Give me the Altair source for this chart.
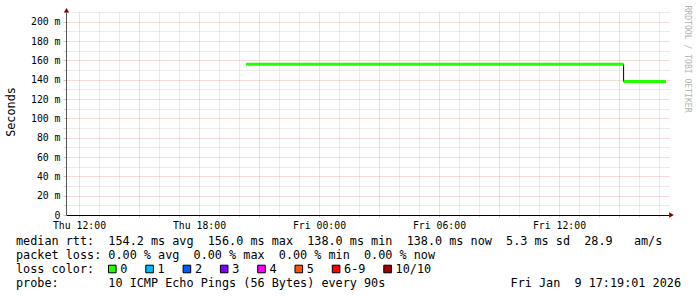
import altair as alt
import pandas as pd

# ---------------- data ----------------
# time in hours since Thu 00:00
seg_start_h = [20.35, 39.23]
seg_end_h = [39.23, 41.35]
seg_median_ms = [156.0, 138.0]
seg_loss = [0, 0]

x_tick_hours = [12, 18, 24, 30, 36]
x_tick_labels = ["Thu 12:00", "Thu 18:00", "Fri 00:00", "Fri 06:00", "Fri 12:00"]
x_grid_hours = list(range(12, 42))
y_grid_values = list(range(0, 211, 10))

loss_labels = ["0", "1", "2", "3", "4", "5", "6-9", "10/10"]
loss_colors = ["#26ff00", "#00b8ff", "#0059ff", "#7e00ff", "#ff00ff", "#ff5500", "#ff0000", "#a10000"]

legend_rows = [
    "median rtt:  154.2 ms avg  156.0 ms max  138.0 ms min  138.0 ms now  5.3 ms sd  28.9   am/s",
    "packet loss: 0.00 % avg  0.00 % max  0.00 % min  0.00 % now",
    "loss color:",
    "probe:       10 ICMP Echo Pings (56 Bytes) every 90s",
]
timestamp = "Fri Jan  9 17:19:01 2026"
y_title = "Seconds"
watermark = "RRDTOOL / TOBI OETIKER"

# ---------------- layout / style ----------------
MONO = "DejaVu Sans Mono"
FS = 11.8
X0, Y0 = 66, 12          # plot origin in the page
W, H = 603, 203
X_DOMAIN = [11.35, 41.5]
Y_DOMAIN = [0, 210]
MINOR = "#d6d6d6"
MAJOR = "#ecb6b6"
ARROW = "#800000"

def nb(s):
    return s.replace(" ", "\u00a0")

xscale = alt.Scale(domain=X_DOMAIN, nice=False, zero=False)
yscale = alt.Scale(domain=Y_DOMAIN, nice=False, zero=True)

x_label_expr = "''"
for h, lab in reversed(list(zip(x_tick_hours, x_tick_labels))):
    x_label_expr = f"datum.value == {h} ? '{lab}' : ({x_label_expr})"

xaxis = alt.Axis(
    orient="bottom", values=x_grid_hours, labelExpr=x_label_expr, title=None,
    grid=True, gridDash=[1, 1], gridWidth=1,
    gridColor={"condition": {"test": "datum.value % 3 === 0", "value": MAJOR}, "value": MINOR},
    tickSize=2, tickColor={"condition": {"test": "datum.value % 3 === 0", "value": MAJOR}, "value": MINOR},
    labelFont=MONO, labelFontSize=9.8, labelColor="#000", labelPadding=3,
    labelAngle=0, labelFlush=False, labelOverlap=False,
    domainColor="#000", domainWidth=1,
)
yaxis = alt.Axis(
    orient="left", values=y_grid_values,
    labelExpr="datum.value % 20 === 0 ? (datum.value === 0 ? '0' : datum.value + ' m') : ''",
    title=None, grid=True, gridDash=[1, 1], gridWidth=1,
    gridColor={"condition": {"test": "datum.value % 20 === 0", "value": MAJOR}, "value": MINOR},
    tickSize=3, tickColor={"condition": {"test": "datum.value % 20 === 0", "value": MAJOR}, "value": MINOR},
    labelFont=MONO, labelFontSize=9.8, labelColor="#000", labelPadding=3,
    labelOverlap=False, labelFlush=False,
    domainColor="#555", domainWidth=1,
)

seg_df = pd.DataFrame({
    "start": seg_start_h, "end": seg_end_h, "median": seg_median_ms,
    "loss": [loss_labels[l] for l in seg_loss],
})
line_df = pd.DataFrame({
    "t": seg_start_h + [seg_end_h[-1]],
    "v": seg_median_ms + [seg_median_ms[-1]],
})

median_line = alt.Chart(line_df).mark_line(
    interpolate="step-after", color="#000", strokeWidth=1
).encode(
    x=alt.X("t:Q", scale=xscale, axis=xaxis),
    y=alt.Y("v:Q", scale=yscale, axis=yaxis),
)

loss_line = alt.Chart(seg_df).mark_rule(strokeWidth=3, strokeCap="butt").encode(
    x=alt.X("start:Q", scale=xscale, axis=xaxis),
    x2="end:Q",
    y=alt.Y("median:Q", scale=yscale, axis=yaxis),
    color=alt.Color("loss:N", scale=alt.Scale(domain=loss_labels, range=loss_colors), legend=None),
)

# legend text rows
rows_df = pd.DataFrame({
    "text": [nb(r) for r in legend_rows],
    "ypx": [241 - Y0 + 14 * i for i in range(len(legend_rows))],
})
rows = alt.Chart(rows_df).mark_text(
    font=MONO, fontSize=FS, align="left", baseline="middle", color="#000"
).encode(text="text:N", x=alt.value(16 - X0), y=alt.Y("ypx:Q", scale=None))

stamp = alt.Chart(pd.DataFrame({"text": [nb(timestamp)]})).mark_text(
    font=MONO, fontSize=FS, align="right", baseline="middle", color="#000"
).encode(text="text:N", x=alt.value(681 - X0), y=alt.value(241 - Y0 + 14 * 3))

# loss colour swatches
sq_x, lab_x = [], []
left = 108.3
for lab in loss_labels:
    sq_x.append(left + 4 - X0)
    lab_x.append(left + 12 - X0)
    left += 12 + 7.1 * len(lab) + 18.2
sw_df = pd.DataFrame({"label": loss_labels, "sx": sq_x, "lx": lab_x})
swatch = alt.Chart(sw_df).mark_square(
    size=58, filled=True, stroke="#000", strokeWidth=1, opacity=1
).encode(
    x=alt.X("sx:Q", scale=None), y=alt.value(269 - Y0),
    color=alt.Color("label:N", scale=alt.Scale(domain=loss_labels, range=loss_colors), legend=None),
)
swatch_text = alt.Chart(sw_df).mark_text(
    font=MONO, fontSize=FS, align="left", baseline="middle", color="#000"
).encode(text="label:N", x=alt.X("lx:Q", scale=None), y=alt.value(269 - Y0))

ytitle = alt.Chart(pd.DataFrame({"text": [y_title]})).mark_text(
    font=MONO, fontSize=FS, angle=270, align="center", baseline="middle", color="#000"
).encode(text="text:N", x=alt.value(11 - X0), y=alt.value(112 - Y0))

wm = alt.Chart(pd.DataFrame({"text": [nb(watermark)]})).mark_text(
    font=MONO, fontSize=8.1, angle=90, align="center", baseline="middle", color="#b4b4b4"
).encode(text="text:N", x=alt.value(687 - X0), y=alt.value(59 - Y0))

arrow_up = alt.Chart(pd.DataFrame({"a": [1]})).mark_point(
    shape="triangle-up", filled=True, size=28, color=ARROW, opacity=1
).encode(x=alt.value(0.5), y=alt.value(10.3 - Y0))
arrow_right = alt.Chart(pd.DataFrame({"a": [1]})).mark_point(
    shape="triangle-right", filled=True, size=28, color=ARROW, opacity=1
).encode(x=alt.value(671.5 - X0), y=alt.value(215 - Y0))

chart = alt.layer(
    median_line, loss_line, rows, stamp, swatch, swatch_text, ytitle, wm, arrow_up, arrow_right
).properties(
    width=W, height=H,
    padding={"left": X0, "top": Y0, "right": 697 - X0 - W, "bottom": 297 - Y0 - H},
    autosize="none", background="#ffffff",
).configure_view(stroke=None)

chart.save("out.html", embed_options={"renderer": "svg", "actions": False})
